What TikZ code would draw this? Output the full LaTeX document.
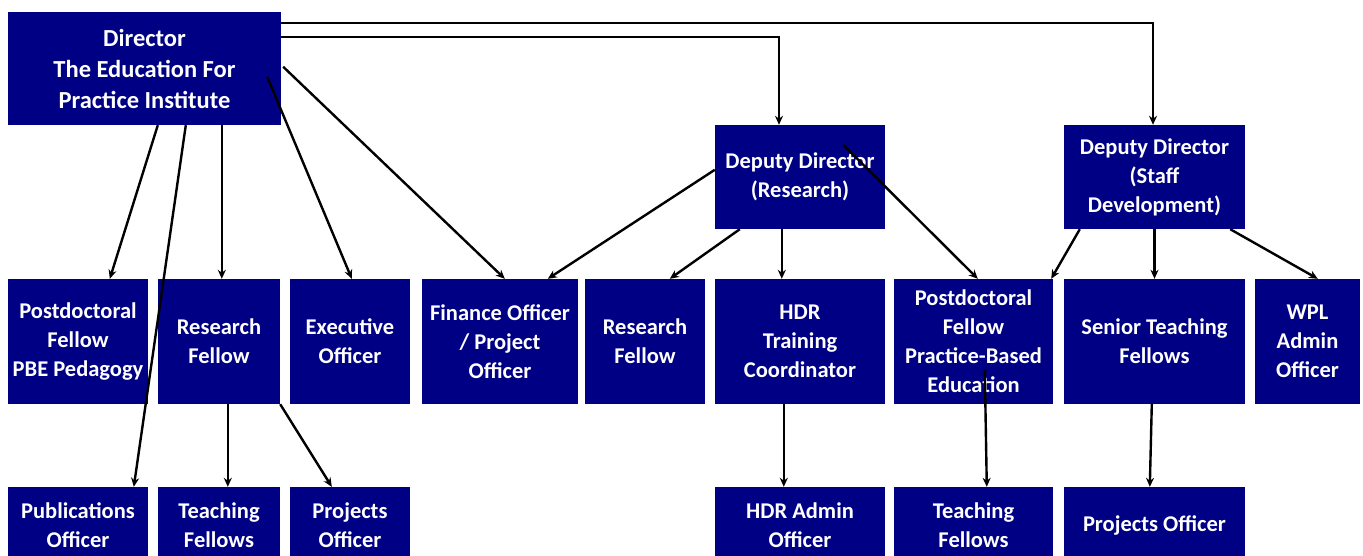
\documentclass[tikz,border=0pt]{standalone}
\usepackage{fontspec}
\setmainfont{Carlito}
\usetikzlibrary{arrows.meta}
\definecolor{boxblue}{RGB}{0,0,132}
\begin{document}
\begin{tikzpicture}[x=1pt,y=-1pt,
  box/.style={fill=boxblue, text=white, align=center, inner sep=0pt,
    font=\fontsize{22.5}{29}\selectfont\bfseries},
  r1/.style={box, minimum height=113pt, font=\fontsize{24.5}{31}\selectfont\bfseries},
  r2/.style={box, minimum height=125pt},
  r3/.style={box, minimum height=76pt},
  dd/.style={box, minimum height=104pt},
  link/.style={line width=2.4pt, -{Stealth[length=9pt,width=8pt]}}]
\useasboundingbox (0,0) rectangle (1363,556);
\clip (0,0) rectangle (1363,556);
% top
\node[r1, minimum width=273pt] (dir) at (144.5,68.5) {Director\\The Education For\\Practice Institute};
\node[dd, minimum width=170pt] (dr) at (800,177) {Deputy Director\\(Research)};
\node[dd, minimum width=181pt] (ds) at (1154.5,177) {Deputy Director\\(Staff\\Development)};
% row 2
\node[r2, minimum width=140pt] (pf1) at (78,341.5) {Postdoctoral\\Fellow\\PBE Pedagogy};
\node[r2, minimum width=122pt] (rf1) at (219,341.5) {Research\\Fellow};
\node[r2, minimum width=120pt] (eo) at (350,341.5) {Executive\\Officer};
\node[r2, minimum width=156pt] (fo) at (500,341.5) {Finance Officer\\/ Project\\Officer};
\node[r2, minimum width=120pt] (rf2) at (645,341.5) {Research\\Fellow};
\node[r2, minimum width=170pt] (hdr) at (800,341.5) {HDR\\Training\\Coordinator};
\node[r2, minimum width=159pt] (pf2) at (973.5,341.5) {Postdoctoral\\Fellow\\Practice-Based\\Education};
\node[r2, minimum width=181pt] (st) at (1154.5,341.5) {Senior Teaching\\Fellows};
\node[r2, minimum width=105pt] (wpl) at (1307.5,341.5) {WPL\\Admin\\Officer};
% row 3
\node[r3, minimum width=140pt] (po) at (78,525) {Publications\\Officer};
\node[r3, minimum width=122pt] (tf1) at (219,525) {Teaching\\Fellows};
\node[r3, minimum width=120pt] (pj1) at (350,525) {Projects\\Officer};
\node[r3, minimum width=170pt] (ha) at (800,525) {HDR Admin\\Officer};
\node[r3, minimum width=159pt] (tf2) at (973.5,525) {Teaching\\Fellows};
\node[r3, minimum width=181pt] (pj2) at (1154.5,525) {Projects Officer};
% connectors from Director
\draw[link] ([yshift=-11pt]dir.north east) -| ([xshift=-1.5pt]ds.north);
\draw[link] ([yshift=-25pt]dir.north east) -| ([xshift=-21pt]dr.north);
\draw[link] ([xshift=150pt]dir.south west) -- ([xshift=102pt]pf1.north west);
\draw[link] ([xshift=178pt]dir.south west) -- ([xshift=126pt]po.north west);
\draw[link] ([xshift=214pt]dir.south west) -- ([xshift=64pt]rf1.north west);
\draw[link] ([xshift=-14pt,yshift=-65pt]dir.north east) -- ([xshift=62pt]eo.north west);
\draw[link] ([xshift=2pt,yshift=-55pt]dir.north east) -- ([xshift=83pt]fo.north west);
% connectors from Deputy Director (Research)
\draw[link] ([yshift=-45pt]dr.north west) -- ([xshift=126pt]fo.north west);
\draw[link] ([xshift=25pt]dr.south west) -- ([xshift=85pt]rf2.north west);
\draw[link] ([xshift=67pt]dr.south west) -- ([xshift=67pt]hdr.north west);
\draw[link] ([xshift=-42pt,yshift=-20pt]dr.north east) -- ([xshift=84pt]pf2.north west);
% connectors from Deputy Director (Staff Development)
\draw[link] ([xshift=16pt]ds.south west) -- ([xshift=-2pt]pf2.north east);
\draw[link] (ds.south) -- (st.north);
\draw[link] ([xshift=-15pt]ds.south east) -- ([xshift=63pt]wpl.north west);
% row 2 to row 3
\draw[link] ([xshift=70pt]rf1.south west) -- ([xshift=70pt]tf1.north west);
\draw[link] (rf1.south east) -- ([xshift=42pt]pj1.north west);
\draw[link] ([xshift=69pt]hdr.south west) -- ([xshift=69pt]ha.north west);
\draw[link] ([xshift=91pt,yshift=34pt]pf2.south west) -- ([xshift=93pt]tf2.north west);
\draw[link] ([xshift=88pt]st.south west) -- ([xshift=86pt]pj2.north west);
\end{tikzpicture}
\end{document}
